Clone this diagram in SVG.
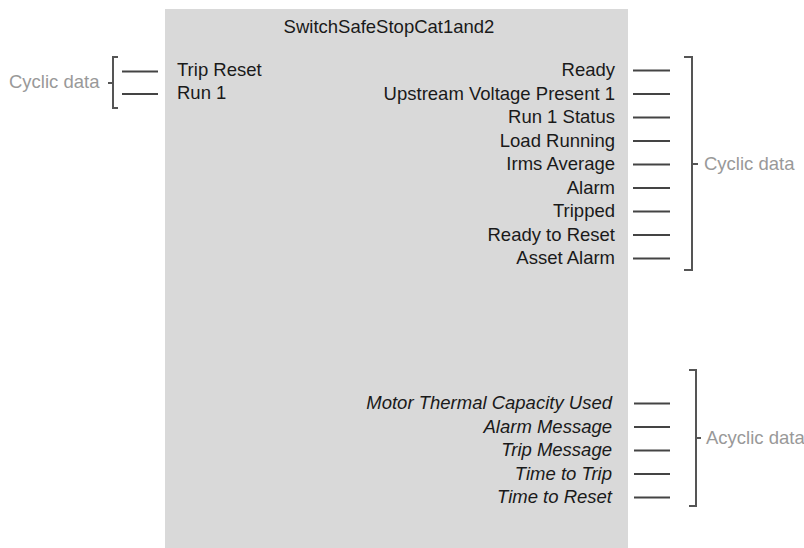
<svg xmlns="http://www.w3.org/2000/svg" width="804" height="548" viewBox="0 0 804 548">
<style>
text{font-family:"Liberation Sans",Arial,sans-serif;font-size:18.5px;fill:#1a1a1a}
.r{text-anchor:end}
.i{font-style:italic}
.g{fill:#999999}
.ln{stroke:#444;stroke-width:2;fill:none}
.br{stroke:#555;stroke-width:2;fill:none}
</style>
<rect width="804" height="548" fill="#fff"/>
<g id="block">
<rect x="165" y="9" width="463" height="539" fill="#d9d9d9"/>
<text x="389" y="33" text-anchor="middle">SwitchSafeStopCat1and2</text>
<text x="177" y="76">Trip Reset</text>
<text x="177" y="99">Run 1</text>
<text class="r" x="615" y="76">Ready</text>
<text class="r" x="615" y="99.5">Upstream Voltage Present 1</text>
<text class="r" x="615" y="123">Run 1 Status</text>
<text class="r" x="615" y="146.5">Load Running</text>
<text class="r" x="615" y="170">Irms Average</text>
<text class="r" x="615" y="193.5">Alarm</text>
<text class="r" x="615" y="217">Tripped</text>
<text class="r" x="615" y="240.5">Ready to Reset</text>
<text class="r" x="615" y="264">Asset Alarm</text>
<text class="r i" x="612" y="409">Motor Thermal Capacity Used</text>
<text class="r i" x="612" y="432.5">Alarm Message</text>
<text class="r i" x="612" y="456">Trip Message</text>
<text class="r i" x="612" y="479.5">Time to Trip</text>
<text class="r i" x="612" y="503">Time to Reset</text>
</g>
<g id="connectors">
<path class="ln" d="M122 71.5H158M122 94H158"/>
<path class="ln" d="M633 70.5H670M633 94H670M633 117.5H670M633 141H670M633 164.5H670M633 188H670M633 211.5H670M633 235H670M633 258.5H670"/>
<path class="ln" d="M634 403.5H670M634 427H670M634 450.5H670M634 474H670M634 497.5H670"/>
</g>
<g id="cyclic-in">
<path class="br" d="M118 57H113V108H118M113 83H108"/>
<text class="g" x="9" y="88">Cyclic data</text>
</g>
<g id="cyclic-out">
<path class="br" d="M684 57H692V270H684M692 164H698"/>
<text class="g" x="704" y="170">Cyclic data</text>
</g>
<g id="acyclic-out">
<path class="br" d="M689 370H696V506H689M696 438H701"/>
<text class="g" x="706" y="444">Acyclic data</text>
</g>
</svg>
